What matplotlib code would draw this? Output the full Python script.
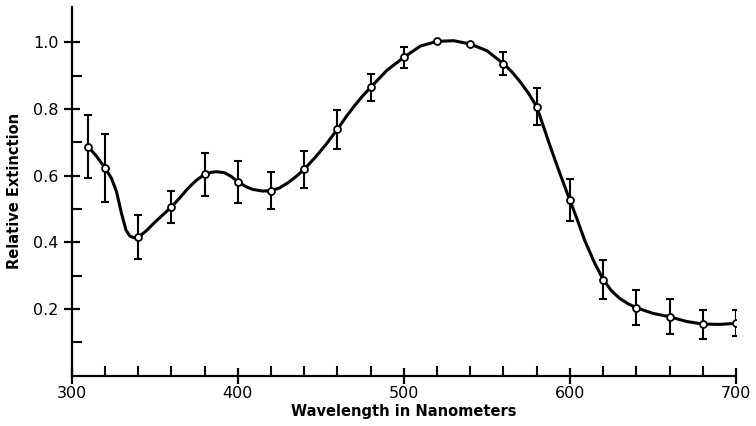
import numpy as np
import matplotlib
matplotlib.use("Agg")
import matplotlib.pyplot as plt
from matplotlib.ticker import MultipleLocator, FixedLocator

# measured points with error bars
wavelength = [310, 320, 340, 360, 380, 400, 420, 440, 460, 480, 500,
              520, 540, 560, 580, 600, 620, 640, 660, 680, 700]
extinction = [0.687, 0.624, 0.415, 0.506, 0.604, 0.582, 0.555, 0.619, 0.739, 0.865, 0.955,
              1.003, 0.995, 0.936, 0.807, 0.527, 0.288, 0.204, 0.177, 0.154, 0.157]
err = [0.095, 0.102, 0.066, 0.049, 0.064, 0.063, 0.056, 0.056, 0.058, 0.041, 0.032,
       0.0, 0.0, 0.035, 0.056, 0.063, 0.058, 0.053, 0.053, 0.044, 0.039]

# hand-drawn smooth curve
curve_x = [310, 315, 320, 324, 327, 330, 332.7, 335, 337.5, 340, 345, 350, 355, 360, 365, 370,
           375, 380, 384, 387, 392, 396, 400, 405, 409, 415, 420, 425, 430, 435, 440, 447,
           453, 460, 465, 470, 475, 480, 490, 500, 510, 520, 530, 540, 550, 560, 565, 570,
           575, 580, 584, 588, 593, 597, 600, 604, 609, 615, 620, 625, 630, 635, 640, 650,
           660, 670, 680, 690, 700]
curve_y = [0.687, 0.658, 0.624, 0.592, 0.552, 0.487, 0.437, 0.419, 0.414, 0.415, 0.435, 0.460,
           0.483, 0.506, 0.533, 0.562, 0.586, 0.604, 0.610, 0.612, 0.609, 0.598, 0.582, 0.567,
           0.559, 0.554, 0.555, 0.563, 0.578, 0.597, 0.619, 0.657, 0.693, 0.739, 0.775, 0.808,
           0.838, 0.865, 0.917, 0.955, 0.989, 1.003, 1.005, 0.995, 0.975, 0.936, 0.912, 0.882,
           0.848, 0.807, 0.749, 0.690, 0.620, 0.566, 0.527, 0.474, 0.405, 0.337, 0.289, 0.255,
           0.232, 0.216, 0.204, 0.187, 0.177, 0.163, 0.155, 0.154, 0.157]

fig = plt.figure(figsize=(7.56, 4.26), dpi=100)
ax = fig.add_axes([0.0948, 0.118, 0.8787, 0.8655])

ax.plot(curve_x, curve_y, color="black", lw=2.2, solid_joinstyle="round",
        solid_capstyle="round", zorder=2)
ax.errorbar(wavelength, extinction, yerr=err, fmt="none", ecolor="black",
            elinewidth=1.5, capsize=3, capthick=1.5, zorder=3)
ax.plot(wavelength, extinction, "o", ms=5, mfc="white", mec="black", mew=1.3, zorder=4)

ax.set_xlim(300, 700)
ax.set_ylim(0, 1.106)
for s in ["top", "right"]:
    ax.spines[s].set_visible(False)
for s in ["left", "bottom"]:
    ax.spines[s].set_linewidth(1.6)

ax.xaxis.set_major_locator(MultipleLocator(100))
ax.xaxis.set_minor_locator(MultipleLocator(20))
ax.set_yticks([0.2, 0.4, 0.6, 0.8, 1.0])
ax.set_yticklabels(["0.2", "0.4", "0.6", "0.8", "1.0"])
ax.yaxis.set_minor_locator(FixedLocator([0.1, 0.3, 0.5, 0.7, 0.9]))

ax.tick_params(which="major", direction="inout", length=11, width=1.6,
               labelsize=11.5, pad=2)
ax.tick_params(which="minor", direction="in", length=7, width=1.5)
ax.tick_params(axis="y", which="major", pad=4)

ax.set_xlabel("Wavelength in Nanometers", fontsize=10.5, fontweight="bold", labelpad=2)
ax.set_ylabel("Relative Extinction", fontsize=10.5, fontweight="bold", labelpad=8)

fig.savefig("out.png", dpi=100)
